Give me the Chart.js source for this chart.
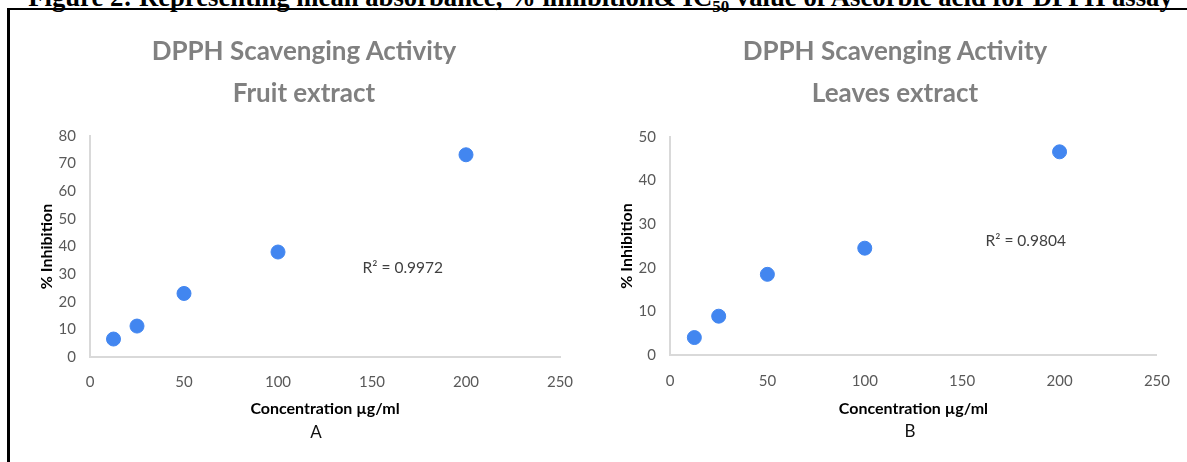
<!DOCTYPE html>
<html>
<head>
<meta charset="utf-8">
<script src="https://cdn.jsdelivr.net/npm/chart.js@4/dist/chart.umd.min.js"></script>
<style>
  body { margin: 0; background: #fff; width: 1187px; height: 462px; overflow: hidden; position: relative; }
  #frame { position: absolute; left: 7px; top: 8px; width: 1200px; height: 500px;
           border-left: 3px solid #000; border-top: 2px solid #000; }
  #caption { position: absolute; left: 0; width: 1201px; top: -18px; text-align: center;
             font: bold 26.7px "Liberation Serif", serif; white-space: nowrap; line-height: 30px; }
  .box { position: absolute; top: 12px; height: 450px; }
  #boxA { left: 10px; width: 580px; }
  #boxB { left: 595px; width: 592px; }
  .title { position: absolute; width: 500px; text-align: center; color: #808080;
           font: bold 26px Lato, sans-serif; line-height: 42px; top: 29px; }
  .letter { position: absolute; width: 40px; text-align: center; color: #111;
            font: 17px Lato, sans-serif; line-height: 20px; }
</style>
</head>
<body>
<div id="caption">Figure 2: Representing mean absorbance, % inhibition&amp; IC<sub style="font-size:17px">50</sub> value of Ascorbic acid for DPPH assay</div>
<div id="frame"></div>
<div class="box" id="boxA"><canvas id="chartA"></canvas></div>
<div class="box" id="boxB"><canvas id="chartB"></canvas></div>
<div class="title" style="left:54px">DPPH Scavenging Activity<br>Fruit extract</div>
<div class="title" style="left:645px">DPPH Scavenging Activity<br>Leaves extract</div>
<div class="letter" style="left:296px; top:422px">A</div>
<div class="letter" style="left:890px; top:421px">B</div>
<script>
// concentrations (µg/ml) shared by both plots
const concentrations = [12.5, 25, 50, 100, 200]

// % inhibition
const fruitInhibition = [6.5, 11.2, 23, 38, 73.2]
const leavesInhibition = [4, 8.9, 18.5, 24.5, 46.6]

const fruitR2 = 'R² = 0.9972'
const leavesR2 = 'R² = 0.9804'

const xTitle = 'Concentration µg/ml'
const yTitle = '% Inhibition'

// text label placed in data units
const r2Label = {
    id: 'r2Label',
    afterDatasetsDraw(chart, args, opts) {
        const ctx = chart.ctx
        const x = chart.scales.x.getPixelForValue(opts.x)
        const y = chart.scales.y.getPixelForValue(opts.y)
        ctx.save()
        ctx.font = '15.5px Lato'
        ctx.fillStyle = '#404040'
        ctx.textBaseline = 'middle'
        ctx.fillText(opts.text, x, y)
        ctx.restore()
    }
}

function buildChart(id, values, cfg) {
    const points = concentrations.map((c, i) => ({ x: c, y: values[i] }))
    const config = {
        type: 'scatter',
        data: {
            datasets: [{
                data: points,
                backgroundColor: '#4286f0',
                borderColor: '#4286f0',
                pointRadius: 7,
                pointHoverRadius: 7
            }]
        },
        plugins: [r2Label],
        options: {
            responsive: true,
            maintainAspectRatio: false,
            animation: false,
            layout: { padding: { left: 0, right: cfg.right, top: cfg.top, bottom: 42 } },
            plugins: {
                legend: { display: false },
                tooltip: { enabled: false },
                r2Label: cfg.r2
            },
            scales: {
                x: {
                    type: 'linear',
                    min: 0,
                    max: 250,
                    afterFit: (s) => { s.height = cfg.xHeight },
                    grid: { display: false, drawTicks: false },
                    border: { color: '#d9d9d9', width: 2 },
                    ticks: { stepSize: 50, padding: cfg.xPad, color: '#595959', font: { family: 'Lato', size: 15 } },
                    title: {
                        display: true,
                        text: xTitle,
                        color: '#000',
                        font: { family: 'Lato', size: 16, weight: 'bold', lineHeight: '19px' },
                        padding: { top: 0, bottom: 1.5 }
                    }
                },
                y: {
                    min: 0,
                    max: cfg.yMax,
                    afterFit: (s) => { s.width = cfg.yWidth },
                    grid: { display: false, drawTicks: false },
                    border: { color: '#d9d9d9', width: 2 },
                    ticks: { stepSize: 10, padding: 14, color: '#595959', font: { family: 'Lato', size: 15 } },
                    title: {
                        display: true,
                        text: yTitle,
                        color: '#000',
                        font: { family: 'Lato', size: 16, weight: 'bold', lineHeight: '19px' },
                        padding: { top: cfg.yTitleOff, bottom: 0 }
                    }
                }
            }
        }
    }
    return new Chart(document.getElementById(id), config)
}

buildChart('chartA', fruitInhibition, {
    yMax: 80,
    top: 124,
    right: 30,
    yWidth: 80,
    yTitleOff: 27.5,
    xHeight: 63,
    xPad: 16,
    r2: { x: 145, y: 32.2, text: fruitR2 }
})

buildChart('chartB', leavesInhibition, {
    yMax: 50,
    top: 125,
    right: 24,
    yWidth: 75,
    yTitleOff: 22.5,
    xHeight: 65,
    xPad: 17,
    r2: { x: 162, y: 26.1, text: leavesR2 }
})
</script>
</body>
</html>
